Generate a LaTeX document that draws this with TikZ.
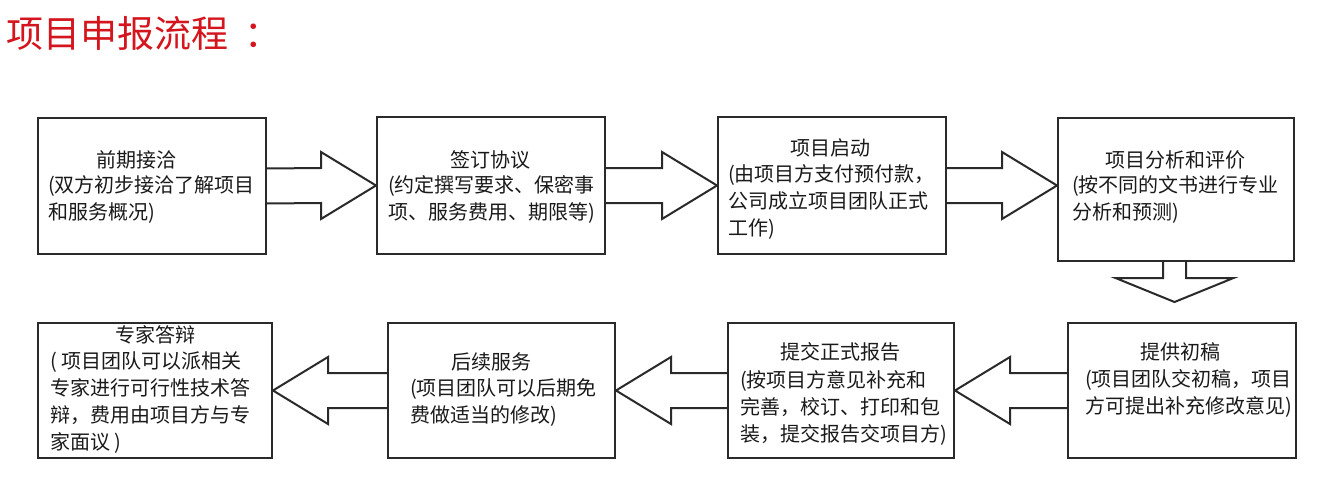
\documentclass[tikz,border=0pt]{standalone}
\usepackage{fontspec}
\setmainfont{Noto Sans CJK SC}
\usetikzlibrary{calc}
\definecolor{ln}{HTML}{2A2A2A}
\definecolor{txt}{HTML}{1A1A1A}
\definecolor{ttl}{HTML}{D4151D}
\newcommand\bigarrow[3]{%
  \draw[arr] ($(#1)+(0,-17.5)$) -- ($(#2)+(-55*#3,-17.5)$) -- ($(#2)+(-55*#3,-33.5)$) -- (#2)
    -- ($(#2)+(-55*#3,33.5)$) -- ($(#2)+(-55*#3,17.5)$) -- ($(#1)+(0,17.5)$);}
\begin{document}
\begin{tikzpicture}[x=1pt,y=-1pt,
  box/.style={draw=ln,line width=2pt,inner sep=0pt,fill=white},
  arr/.style={draw=ln,line width=2pt,line join=miter},
  head/.style={inner sep=0pt,text=txt,font={\fontsize{20}{27}\selectfont},anchor=center},
  body/.style={inner sep=0pt,text=txt,font={\fontsize{20}{27}\selectfont},align=left,anchor=west}]
\useasboundingbox[fill=white] (0,0) rectangle (1335,500);

\node[inner sep=0pt,anchor=west,text=ttl,font={\fontsize{37}{40}\selectfont}] (title) at (6,33) {项目申报流程\hspace{16pt}：};

% boxes
\node[box,minimum width=228pt,minimum height=136pt] (b1) at (152,186) {};
\node[box,minimum width=228pt,minimum height=137pt] (b2) at (491,185.5) {};
\node[box,minimum width=228pt,minimum height=137pt] (b3) at (832,185.5) {};
\node[box,minimum width=236pt,minimum height=143pt] (b4) at (1176,189.5) {};
\node[box,minimum width=228pt,minimum height=135pt] (b5) at (1182,390.5) {};
\node[box,minimum width=226pt,minimum height=135pt] (b6) at (841,390.5) {};
\node[box,minimum width=227pt,minimum height=135pt] (b7) at (501.5,390.5) {};
\node[box,minimum width=234pt,minimum height=135pt] (b8) at (155,390.5) {};

% texts
\node[head] (t1) at (136,160) {前期接洽};
\node[body] (d1) at (48,199.5) {(双方初步接洽了解项目\\和服务概况)};
\node[head] (t2) at (490,160) {签订协议};
\node[body] (d2) at (388,199.5) {(约定撰写要求、保密事\\项、服务费用、期限等)};
\node[head] (t3) at (830,148) {项目启动};
\node[body] (d3) at (728,202) {(由项目方支付预付款，\\公司成立项目团队正式\\工作)};
\node[head] (t4) at (1175,160) {项目分析和评价};
\node[body] (d4) at (1072,199.5) {(按不同的文书进行专业\\分析和预测)};
\node[head] (t5) at (1180,352) {提供初稿};
\node[body] (d5) at (1085,393) {(项目团队交初稿，项目\\方可提出补充修改意见)};
\node[head] (t6) at (840,352) {提交正式报告};
\node[body] (d6) at (740,407.5) {(按项目方意见补充和\\完善，校订、打印和包\\装，提交报告交项目方)};
\node[head] (t7) at (491,362) {后续服务};
\node[body] (d7) at (410,403) {(项目团队可以后期免\\费做适当的修改)};
\node[head] (t8) at (155,335) {专家答辩};
\node[body] (d8) at (50,403) {( 项目团队可以派相关\\专家进行可行性技术答\\辩，费用由项目方与专\\家面议 )};

% arrows
\coordinate (t34) at (b4.west |- b3.east);
\bigarrow{b1.east}{b2.west}{1}
\bigarrow{b2.east}{b3.west}{1}
\bigarrow{b3.east}{t34}{1}
\bigarrow{b5.west}{b6.east}{-1}
\bigarrow{b6.west}{b7.east}{-1}
\bigarrow{b7.west}{b8.east}{-1}

\coordinate (dtip) at ($(b4.south)+(-1.5,40)$);
\draw[arr] ($(b4.south)+(-13,0)$) -- ($(dtip)+(-11.5,-24)$) -- ($(dtip)+(-59,-24)$) -- (dtip)
  -- ($(dtip)+(59,-24)$) -- ($(dtip)+(11.5,-24)$) -- ($(b4.south)+(10,0)$);
\end{tikzpicture}
\end{document}
